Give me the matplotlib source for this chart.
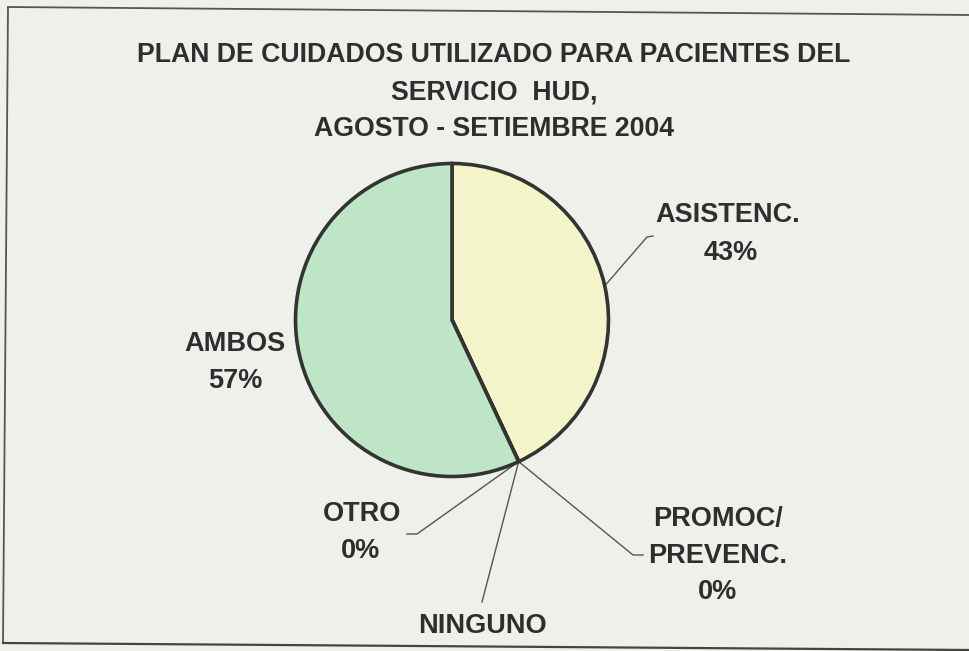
import matplotlib
matplotlib.use("Agg")
import matplotlib.pyplot as plt
import numpy as np

categories = ["ASISTENC.", "PROMOC/\nPREVENC.", "NINGUNO", "OTRO", "AMBOS"]
values = [43, 0, 0, 0, 57]
pct_labels = ["43%", "0%", "", "0%", "57%"]
title_lines = ["PLAN DE CUIDADOS UTILIZADO PARA PACIENTES DEL",
               "SERVICIO  HUD,",
               "AGOSTO - SETIEMBRE 2004"]

W, H = 969, 651
fig = plt.figure(figsize=(W / 100, H / 100), dpi=100)
bg = "#EEF1EA"
fig.patch.set_facecolor(bg)
ax = fig.add_axes([0, 0, 1, 1])
ax.set_facecolor(bg)


def Y(y):
    return H - y


center = (452, Y(320))
radius = 156.5
colors = ["#F4F4CA", "#F4F4CA", "#F4F4CA", "#F4F4CA", "#BEE5C6"]
wedges, _ = ax.pie(values, center=center, radius=radius, startangle=90,
                   counterclock=False, colors=colors,
                   wedgeprops=dict(edgecolor="#333333", linewidth=2.6))
ax.set_xlim(0, W)
ax.set_ylim(0, H)
ax.set_aspect("equal")
ax.axis("off")

txtc = "#2E2E2E"
fs = 19.5
label_pos = {
    0: dict(text=[(728, 215)], pct=(731, 253), end=[(647, 237), (653, 236)]),
    1: dict(text=[(718, 519), (718, 556)], pct=(718, 592), end=[(633, 555), (643, 555)]),
    2: dict(text=[(482, 626)], pct=None, end=[(482, 602)]),
    3: dict(text=[(362, 514)], pct=(361, 551), end=[(417, 534), (407, 534)]),
    4: dict(text=[(235, 344)], pct=(235, 381), end=None),
}
for i, w in enumerate(wedges):
    lp = label_pos[i]
    for line, (tx, ty) in zip(categories[i].split("\n"), lp["text"]):
        ax.text(tx, Y(ty), line, ha="center", va="center", fontsize=fs,
                fontweight="bold", color=txtc, family="Liberation Sans")
    if lp["pct"] is not None and pct_labels[i]:
        px, py = lp["pct"]
        ax.text(px, Y(py), pct_labels[i], ha="center", va="center", fontsize=fs,
                fontweight="bold", color=txtc, family="Liberation Sans")
    if lp["end"] is not None:
        ang = np.deg2rad((w.theta1 + w.theta2) / 2)
        sx = center[0] + radius * np.cos(ang)
        sy = center[1] + radius * np.sin(ang)
        xs = [sx] + [p[0] for p in lp["end"]]
        ys = [sy] + [Y(p[1]) for p in lp["end"]]
        ax.plot(xs, ys, color="#555555", lw=1.0, zorder=0.5)

for line, yy in zip(title_lines, [55, 92, 129]):
    ax.text(494, Y(yy), line, ha="center", va="center", fontsize=19.2,
            fontweight="bold", color=txtc, family="Liberation Sans")

# chart frame (slightly skewed in the scan)
ax.plot([8, W], [Y(7), Y(15)], color="#555555", lw=1.3)
ax.plot([8, 3], [Y(7), Y(643)], color="#555555", lw=1.3)
ax.plot([3, W], [Y(643), Y(650)], color="#444444", lw=1.6)

fig.savefig("out.png", dpi=100, facecolor=bg)
